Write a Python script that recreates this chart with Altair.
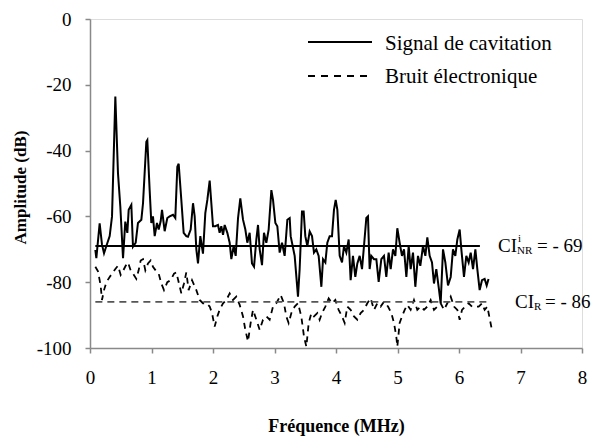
import altair as alt
import pandas as pd

# ---- data ----
sig_f = [0.087, 0.103, 0.157, 0.195, 0.228, 0.266, 0.32, 0.358, 0.412, 0.455, 0.493, 0.537, 0.574, 0.607, 0.629,
         0.672, 0.699, 0.743, 0.78, 0.835, 0.862, 0.916, 0.932, 0.97, 0.997, 1.024, 1.052, 1.089, 1.117, 1.149,
         1.171, 1.214, 1.257, 1.295, 1.35, 1.387, 1.42, 1.442, 1.485, 1.523, 1.566, 1.593, 1.637, 1.675, 1.702,
         1.729, 1.756, 1.794, 1.837, 1.875, 1.908, 1.946, 1.973, 2.0, 2.038, 2.081, 2.108, 2.135, 2.163, 2.19,
         2.233, 2.271, 2.298, 2.336, 2.369, 2.407, 2.444, 2.488, 2.526, 2.558, 2.596, 2.634, 2.667, 2.705, 2.732,
         2.759, 2.797, 2.829, 2.867, 2.905, 2.949, 2.976, 3.014, 3.046, 3.084, 3.122, 3.165, 3.209, 3.247, 3.263,
         3.328, 3.382, 3.409, 3.447, 3.474, 3.501, 3.534, 3.572, 3.61, 3.642, 3.68, 3.718, 3.762, 3.789, 3.827,
         3.859, 3.897, 3.935, 3.967, 3.995, 4.022, 4.06, 4.098, 4.13, 4.168, 4.206, 4.238, 4.276, 4.314, 4.347,
         4.385, 4.423, 4.455, 4.493, 4.52, 4.547, 4.574, 4.618, 4.656, 4.694, 4.737, 4.78, 4.818, 4.856, 4.889,
         4.927, 4.965, 4.997, 5.035, 5.073, 5.106, 5.144, 5.182, 5.214, 5.252, 5.29, 5.333, 5.371, 5.415, 5.453,
         5.485, 5.523, 5.561, 5.593, 5.631, 5.669, 5.702, 5.74, 5.778, 5.821, 5.865, 5.902, 5.94, 5.973, 6.011,
         6.038, 6.081, 6.119, 6.157, 6.19, 6.228, 6.266, 6.298, 6.336, 6.374, 6.417, 6.45, 6.48]
sig_db = [-70.2, -72.7, -62.1, -68.6, -71.2, -69, -66, -60, -23.6, -46.9, -57, -72.7, -61.6, -65, -58,
          -56.5, -69.2, -68, -62, -61, -56, -37.3, -36.8, -52, -62, -60, -66, -62, -64, -61.5,
          -58, -64.5, -60.5, -60, -59.5, -60.5, -44.9, -44, -55, -65, -66, -66.2, -64, -56, -60,
          -70, -74.3, -66, -71.3, -59, -55, -49.1, -56, -63, -63, -62.6, -65, -63, -65.6, -62.6,
          -65, -68, -73, -69, -72, -60.5, -54.5, -61, -64, -68, -65, -74.3, -75.3, -67, -62.6,
          -70, -74.8, -65, -68, -64, -52, -55, -62, -63, -71, -68, -72, -61, -60.5, -66,
          -72, -84.4, -76, -58.5, -58.5, -66, -69, -64.6, -66, -71, -70, -72, -81.4, -73, -74,
          -68, -66, -66, -58, -55, -58, -72, -74, -69, -71, -67, -79.4, -72, -78.4, -74.3,
          -72, -76, -69, -60.5, -60, -76, -72, -73, -73, -79.9, -73, -72, -78.4, -71, -76,
          -70, -72, -63.6, -68, -72, -70, -78.4, -69, -76, -71, -81.4, -72, -75, -69, -72,
          -66.4, -72, -74, -80.4, -76, -81.4, -86.4, -70, -74, -81, -78.4, -70, -72, -67, -64,
          -70, -78.4, -72, -74, -71, -76, -70, -76, -82.4, -79.4, -79, -81, -79]

noise_f = [0.087, 0.13, 0.173, 0.195, 0.228, 0.266, 0.32, 0.374, 0.412, 0.455, 0.499, 0.542, 0.58, 0.618, 0.661,
           0.699, 0.753, 0.791, 0.824, 0.862, 0.9, 0.943, 0.986, 1.024, 1.079, 1.117, 1.16, 1.203, 1.257, 1.312,
           1.366, 1.404, 1.442, 1.485, 1.528, 1.566, 1.604, 1.659, 1.729, 1.783, 1.837, 1.892, 1.946, 1.984, 2.027,
           2.07, 2.108, 2.163, 2.217, 2.271, 2.325, 2.379, 2.434, 2.488, 2.526, 2.569, 2.612, 2.65, 2.705, 2.759,
           2.813, 2.867, 2.921, 2.976, 3.03, 3.1, 3.154, 3.192, 3.23, 3.274, 3.328, 3.382, 3.436, 3.48, 3.518,
           3.556, 3.599, 3.642, 3.696, 3.734, 3.772, 3.827, 3.881, 3.935, 3.989, 4.043, 4.098, 4.141, 4.184, 4.238,
           4.293, 4.347, 4.401, 4.455, 4.509, 4.564, 4.618, 4.672, 4.726, 4.78, 4.846, 4.9, 4.943, 4.981, 4.997,
           5.035, 5.073, 5.117, 5.16, 5.214, 5.268, 5.322, 5.377, 5.431, 5.485, 5.539, 5.593, 5.648, 5.702, 5.756,
           5.81, 5.865, 5.919, 5.973, 6.011, 6.049, 6.103, 6.157, 6.211, 6.266, 6.32, 6.374, 6.417, 6.461, 6.54]
noise_db = [-75.3, -76.7, -81, -85.4, -82.4, -80, -78.4, -77, -76, -75, -77.8, -76.4, -75, -74, -76.4,
            -77.4, -79, -76.4, -73.4, -73, -76.4, -74.3, -73.4, -75.3, -76.7, -77.4, -80.4, -82.4, -80, -79.4,
            -77.4, -77, -80, -83.4, -80.4, -77, -82.4, -79.4, -82.4, -85.4, -86.4, -86.4, -87.4, -89.4, -93.5,
            -90.4, -88.4, -86.4, -85.4, -83.4, -85.4, -84.4, -86.9, -90.4, -94.5, -98, -92.4, -88.4, -91.4, -94.5,
            -91.4, -90.4, -91.4, -87.4, -86.4, -83.9, -86.4, -90.4, -92.4, -89.4, -87.4, -86.4, -90.4, -96.6, -99.6,
            -92.4, -89.4, -90.4, -89.4, -91.4, -89.4, -87.4, -84.9, -86.4, -85.4, -88.4, -90.4, -92.4, -87.4, -88.4,
            -90.4, -91.4, -89.4, -88.4, -86.4, -84.9, -88.4, -86.4, -87.4, -85.9, -87.4, -89.4, -92.4, -96.6, -99.6,
            -92.4, -90.4, -88.4, -86.9, -88.4, -85.4, -88.4, -87.4, -88.4, -87.4, -85.4, -88.4, -87.4, -86.4, -88.4,
            -86.4, -84.4, -87.4, -88.4, -91.4, -88.4, -87.4, -86.4, -87.4, -87.4, -87.4, -86.4, -88.4, -87.4, -95]

x_ticks = [0, 1, 2, 3, 4, 5, 6, 7, 8]
y_ticks = [-100, -80, -60, -40, -20, 0]
ci_levels = [-69, -86]
ci_start = [0.087, 0.087]
ci_end = [6.34, 6.5]
legend_labels = ["Signal de cavitation", "Bruit électronique"]
ci_values = ["- 69", "- 86"]

FONT = "Liberation Serif, Times New Roman, serif"
GRAY = "#898989"

xscale = alt.Scale(domain=[0, 8], nice=False, zero=False)
yscale = alt.Scale(domain=[-100, 0], nice=False, zero=False)

xaxis = alt.Axis(values=x_ticks, title="Fréquence (MHz)", grid=False, tickSize=5, tickColor=GRAY,
                 domainColor=GRAY, domainWidth=1.5, tickWidth=1.5, labelFont=FONT, labelFontSize=19,
                 labelColor="black", labelPadding=15, labelFlush=False, labelOverlap=False,
                 labelExpr="datum.value + ''",
                 titleFont=FONT, titleFontSize=18, titleFontWeight="bold", titleColor="black",
                 titleX=246, titleY=78, titleAlign="center", titleBaseline="middle")
yaxis = alt.Axis(values=y_ticks, title="Amplitude (dB)", grid=False, tickSize=5, tickColor=GRAY,
                 domainColor=GRAY, domainWidth=1.5, tickWidth=1.5, labelFont=FONT, labelFontSize=19,
                 labelColor="black", labelPadding=14, labelFlush=False, labelOverlap=False,
                 labelExpr="datum.value + ''",
                 titleFont=FONT, titleFontSize=17, titleFontWeight="bold", titleColor="black",
                 titleX=-70, titleY=168, titleAngle=270, titleAlign="center", titleBaseline="middle")

X = lambda f: alt.X(f, type="quantitative", scale=xscale, axis=xaxis)
Y = lambda f: alt.Y(f, type="quantitative", scale=yscale, axis=yaxis)

df_sig = pd.DataFrame({"f": sig_f, "db": sig_db, "i": list(range(len(sig_f)))})
df_noise = pd.DataFrame({"f": noise_f, "db": noise_db, "i": list(range(len(noise_f)))})
df_ci = pd.DataFrame({"f": ci_start, "f2": ci_end, "db": ci_levels})

signal = alt.Chart(df_sig).mark_line(color="black", strokeWidth=2).encode(
    x=X("f"), y=Y("db"), order="i:Q")
noise = alt.Chart(df_noise).mark_line(color="black", strokeWidth=1.8, strokeDash=[6, 5]).encode(
    x=X("f"), y=Y("db"), order="i:Q")
rule_nr = alt.Chart(df_ci.iloc[[0]]).mark_rule(color="black", strokeWidth=2).encode(
    x=X("f"), x2="f2", y=Y("db"))
rule_r = alt.Chart(df_ci.iloc[[1]]).mark_rule(color="#555555", strokeWidth=1.8, strokeDash=[7, 5]).encode(
    x=X("f"), x2="f2", y=Y("db"))

# legend (drawn by hand, like the original)
df_leg = pd.DataFrame({"t": legend_labels})
leg_line1 = alt.Chart(df_leg.iloc[[0]]).mark_rule(color="black", strokeWidth=2).encode(
    x=alt.value(218), x2=alt.value(282), y=alt.value(23))
leg_line2 = alt.Chart(df_leg.iloc[[1]]).mark_rule(color="black", strokeWidth=1.8, strokeDash=[7, 6]).encode(
    x=alt.value(218), x2=alt.value(282), y=alt.value(57))
leg_t1 = alt.Chart(df_leg.iloc[[0]]).mark_text(align="left", baseline="middle", font=FONT, fontSize=21,
                                               color="black").encode(x=alt.value(295), y=alt.value(25), text="t:N")
leg_t2 = alt.Chart(df_leg.iloc[[1]]).mark_text(align="left", baseline="middle", font=FONT, fontSize=21,
                                               color="black").encode(x=alt.value(295), y=alt.value(58), text="t:N")


def ann(text, level, px, size, dy=0):
    d = pd.DataFrame({"db": [level], "t": [text]})
    return alt.Chart(d).mark_text(align="left", baseline="middle", font=FONT, fontSize=size, dy=dy,
                                  color="black").encode(x=alt.value(px), y=Y("db"), text="t:N")


anns = [
    ann("CI", ci_levels[0], 408, 19),
    ann("i", ci_levels[0], 428, 11, -7),
    ann("NR", ci_levels[0], 427, 11, 5),
    ann("= " + ci_values[0], ci_levels[0], 447, 19),
    ann("CI", ci_levels[1], 425, 19),
    ann("R", ci_levels[1], 444, 11, 5),
    ann("= " + ci_values[1], ci_levels[1], 455, 19),
]

chart = alt.layer(signal, noise, rule_nr, rule_r, leg_line1, leg_line2, leg_t1, leg_t2, *anns).properties(
    width=492, height=329,
    autosize=alt.AutoSizeParams(type="none"),
    padding={"left": 82, "top": 11, "right": 10, "bottom": 97},
).configure_view(stroke=None).configure(background="white")

chart.save("out.html", embed_options={"renderer": "svg", "actions": False})
